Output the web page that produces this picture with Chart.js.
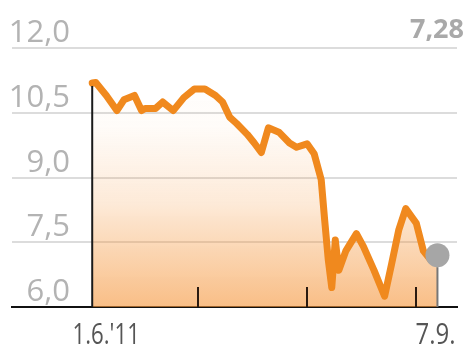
<!DOCTYPE html>
<html>
<head>
<meta charset="utf-8">
<script src="https://cdn.jsdelivr.net/npm/chart.js@4/dist/chart.umd.min.js"></script>
<style>
    html, body { margin: 0; padding: 0; background: #fff; }
    #wrap { width: 469px; height: 347px; position: relative; }
</style>
</head>
<body>
<div id="wrap"><canvas id="chart"></canvas></div>
<script>
// Days since 1.6.2011 and share price
const days = [0, 1, 4, 7, 9, 12, 14, 15, 18, 20, 23, 26, 29, 32, 35, 37, 39, 41, 44, 46, 48, 50, 53, 56, 58, 61, 63, 65, 66, 67, 68, 69, 70, 72, 75, 77, 80, 83, 85, 87, 89, 92, 94, 96, 98];
const prices = [11.19, 11.2, 10.9, 10.55, 10.8, 10.9, 10.55, 10.6, 10.6, 10.75, 10.55, 10.85, 11.05, 11.05, 10.9, 10.75, 10.4, 10.25, 10.0, 9.8, 9.58, 10.15, 10.05, 9.8, 9.7, 9.78, 9.55, 8.95, 8.0, 7.1, 6.45, 7.55, 6.85, 7.3, 7.7, 7.4, 6.85, 6.25, 7.0, 7.78, 8.28, 7.94, 7.3, 7.1, 7.2];
const yTicks = [6.0, 7.5, 9.0, 10.5, 12.0];
const tickDays = [30, 61, 92];
const xLabelDays = [0, 98];
const xLabels = ["1.6.'11", "7.9."];
const lastLabel = '7,28';

const ORANGE = '#f0891e';
const lastIdx = prices.length - 1;

const fmt = v => v.toFixed(1).replace('.', ',');

// draws condensed text centred on cx
function narrowText(ctx, text, cx, y, squeeze) {
    ctx.save();
    ctx.translate(cx, y);
    ctx.scale(squeeze, 1);
    ctx.textAlign = 'center';
    ctx.fillText(text, 0, 0);
    ctx.restore();
}

// y labels, ticks, drop lines and x labels
const decorations = {
    id: 'decorations',
    afterDatasetsDraw(chart) {
        const { ctx, chartArea, scales: { x, y } } = chart;
        const bottom = chartArea.bottom;
        ctx.save();

        // y labels sit just above their grid line
        ctx.font = '31px "Open Sans", sans-serif';
        ctx.fillStyle = '#b3b3b3';
        ctx.textAlign = 'right';
        ctx.textBaseline = 'alphabetic';
        yTicks.forEach(v => {
            ctx.fillText(fmt(v), 70, y.getPixelForValue(v) - 6);
        });

        // last value, top right
        ctx.font = 'bold 27px "Open Sans", sans-serif';
        ctx.fillStyle = '#a9a9a9';
        ctx.fillText(lastLabel, 464, 38);

        // black line under the first point
        ctx.strokeStyle = '#1a1a1a';
        ctx.lineWidth = 2;
        const x0 = x.getPixelForValue(days[0]);
        ctx.beginPath();
        ctx.moveTo(x0, y.getPixelForValue(prices[0]) + 3);
        ctx.lineTo(x0, bottom);
        ctx.stroke();

        // month ticks
        ctx.strokeStyle = '#2a1a10';
        tickDays.forEach(d => {
            const px = Math.round(x.getPixelForValue(d));
            ctx.beginPath();
            ctx.moveTo(px, bottom - 20);
            ctx.lineTo(px, bottom);
            ctx.stroke();
        });

        // grey stem under the last point
        const xl = x.getPixelForValue(days[lastIdx]);
        ctx.strokeStyle = '#777';
        ctx.beginPath();
        ctx.moveTo(xl, y.getPixelForValue(prices[lastIdx]) + 12);
        ctx.lineTo(xl, bottom);
        ctx.stroke();

        // x labels
        ctx.font = '30px "Open Sans", sans-serif';
        ctx.fillStyle = '#555';
        ctx.textBaseline = 'alphabetic';
        narrowText(ctx, xLabels[0], x.getPixelForValue(xLabelDays[0]) + 14, 344, 0.74);
        narrowText(ctx, xLabels[1], x.getPixelForValue(xLabelDays[1]) - 2, 344, 0.8);
        ctx.restore();
    }
};

new Chart(document.getElementById('chart'), {
    type: 'line',
    data: {
        datasets: [{
            data: days.map((d, i) => ({ x: d, y: prices[i] })),
            borderColor: ORANGE,
            borderWidth: 7,
            borderJoinStyle: 'round',
            borderCapStyle: 'round',
            tension: 0,
            fill: 'start',
            backgroundColor: (context) => {
                const { ctx, chartArea } = context.chart;
                if (!chartArea) return 'rgba(245,150,60,0.3)';
                const g = ctx.createLinearGradient(0, chartArea.top, 0, chartArea.bottom);
                g.addColorStop(0, 'rgba(245,150,60,0)');
                g.addColorStop(0.3, 'rgba(245,150,60,0.03)');
                g.addColorStop(0.6, 'rgba(245,150,60,0.2)');
                g.addColorStop(1, 'rgba(245,150,60,0.62)');
                return g;
            },
            pointRadius: ctx => ctx.dataIndex === lastIdx ? 12 : 0,
            pointHoverRadius: 0,
            pointBackgroundColor: '#a6a6a6',
            pointBorderWidth: 0
        }]
    },
    options: {
        responsive: true,
        maintainAspectRatio: false,
        animation: false,
        events: [],
        layout: { padding: { left: 8, right: 6, top: 48, bottom: 40 } },
        plugins: {
            legend: { display: false },
            tooltip: { enabled: false }
        },
        scales: {
            x: {
                type: 'linear',
                min: -22.77,
                max: 103.55,
                ticks: { display: false },
                grid: { display: false, drawTicks: false },
                border: { display: true, color: '#111', width: 2 }
            },
            y: {
                min: 6,
                max: 12,
                afterBuildTicks: axis => { axis.ticks = yTicks.map(v => ({ value: v })); },
                ticks: { display: false },
                grid: { color: '#dcdcdc', lineWidth: 2, drawTicks: false },
                border: { display: false }
            }
        }
    },
    plugins: [decorations]
});
</script>
</body>
</html>
